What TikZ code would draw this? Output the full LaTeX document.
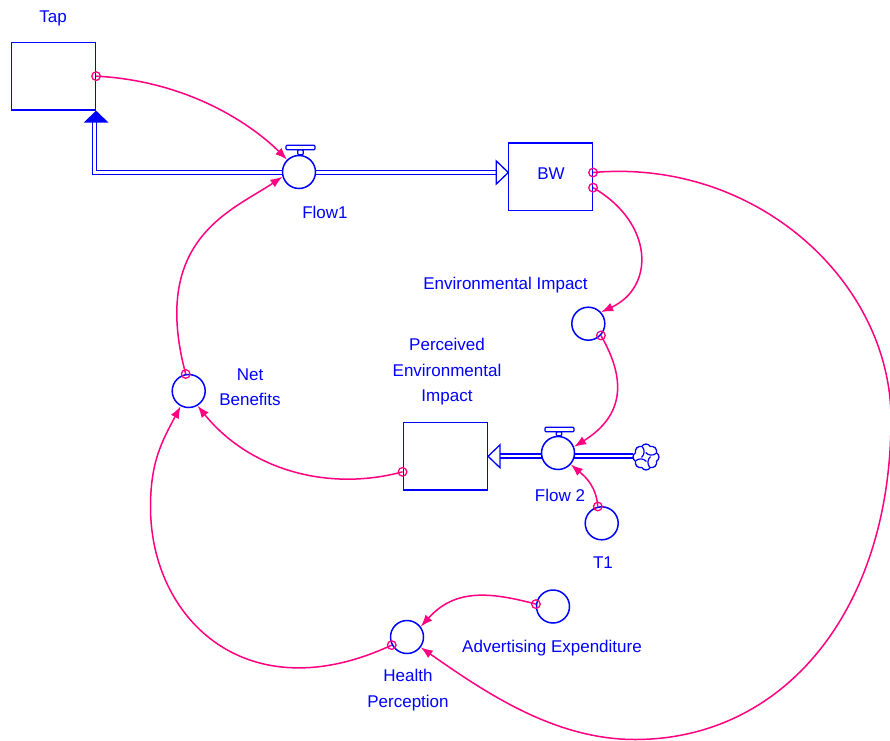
\documentclass[tikz,border=0pt]{standalone}
\usepackage{fontspec}
\setmainfont{Liberation Sans}
\usetikzlibrary{arrows.meta,shapes.symbols}
\definecolor{lnk}{RGB}{255,0,128}
\definecolor{sd}{RGB}{0,0,255}
\begin{document}
\begin{tikzpicture}[x=1pt,y=1pt,
 stock/.style={draw=sd,line width=1.5pt,rectangle,minimum width=84pt,minimum height=67.5pt,inner sep=0pt,fill=white},
 aux/.style={draw=sd,line width=1.5pt,circle,minimum size=33pt,inner sep=0pt},
 valve/.style={draw=sd,line width=1.5pt,circle,minimum size=33pt,inner sep=0pt,fill=white},
 link/.style={draw=lnk,line width=1.5pt,-{Latex[length=12pt,width=9pt]}},
 tail/.style={draw=lnk,line width=1.3pt},
 pipe/.style={draw=sd,line width=1.3pt,double=white,double distance=2.8pt},
 lbl/.style={text=sd,font=\fontsize{17}{25.5}\selectfont,align=center,inner sep=0pt},
 vpart/.style={draw=sd,line width=1.2pt,fill=white,rounded corners=1pt}
]
\useasboundingbox (0,0) rectangle (890,740);

% ---- nodes
\node[stock] (tap) at (53.35,663.85) {};
\node[stock] (bw) at (550.3,563) {};
\node[stock] (pei) at (445.3,283.7) {};
\node[aux] (env) at (588.3,416.3) {};
\node[aux] (t1) at (601.7,216.7) {};
\node[aux] (nb) at (188.7,349) {};
\node[aux] (hp) at (407,103) {};
\node[aux] (adv) at (553,133.5) {};

% ---- pipes
\coordinate (p1) at (94.7,618);
\coordinate (p2) at (94.7,567.5);
\coordinate (p3) at (496.3,567.5);
\coordinate (bwtip) at (508.3,567.5);
\coordinate (q1) at (633,284);
\coordinate (q2) at (499.3,284);
\draw[pipe] (p1) -- (p2) -- (p3);
\draw[pipe] (q1) -- (q2);
\fill[sd] (tap.south east) -- ++(-12.5,-12) -- ++(25,0) -- cycle;
\draw[sd,line width=1.3pt,fill=white,line join=miter] (bwtip) -- ++(-12,11.5) -- ++(0,-23) -- cycle;
\draw[sd,line width=1.3pt,fill=white,line join=miter] (pei.east) -- ++(12,11.5) -- ++(0,-23) -- cycle;

% ---- valves
\node[valve] (f1) at (299,568) {};
\draw[vpart] ([shift={(-1.3,0)}]f1.north) rectangle ([shift={(4.3,5)}]f1.north);
\draw[vpart] ([shift={(-13,5)}]f1.north) rectangle ([shift={(16,9.5)}]f1.north);
\node[valve] (f2) at (558,287) {};
\draw[vpart] ([shift={(-1.8,0)}]f2.north) rectangle ([shift={(3.8,4)}]f2.north);
\draw[vpart] ([shift={(-13,4)}]f2.north) rectangle ([shift={(16,8.5)}]f2.north);

% ---- cloud
\node[cloud,cloud puffs=8,cloud puff arc=120,aspect=1,draw=sd,line width=1.3pt,fill=white,
  minimum width=26pt,minimum height=26pt,inner sep=0pt] (cl) at (646,283) {};
\foreach \a in {20,110,200,290}
  \draw[sd,line width=1.2pt] ([shift={(\a:11pt)}]cl.center) to[bend left=45] ([shift={(\a+75:4.5pt)}]cl.center);

% ---- labels
\node[lbl] (ltap) at (53,722) {Tap};
\node[lbl] (lf1) at (325,528) {Flow1};
\node[lbl] (lbw) at (551,566) {BW};
\node[lbl] (lenv) at (505.5,455) {Environmental Impact};
\node[lbl] (lpei) at (447,368) {Perceived\\Environmental\\Impact};
\node[lbl] (lnb) at (250,353) {Net\\Benefits};
\node[lbl] (lf2) at (560,245) {Flow 2};
\node[lbl] (lt1) at (603,177) {T1};
\node[lbl] (lhp) at (408,50) {Health\\Perception};
\node[lbl] (ladv) at (552,92) {Advertising Expenditure};

% ---- links
\draw[link] (tap.east) to[out=-3,in=135,out distance=100pt,in distance=40pt] (f1.134);
\draw[link] (nb.100) to[out=105,in=214,out distance=140pt,in distance=60pt] (f1.196);
\draw[link] (bw.-14) to[out=-30,in=25,out distance=70pt,in distance=60pt] (env.42);
\coordinate (bigR) at (891,321);
\coordinate (bigB) at (635,0.5);
\draw[link] (bw.6) to[out=5,in=90,out distance=165pt,in distance=136pt] (bigR)
  to[out=270,in=0,out distance=190pt,in distance=150pt] (bigB)
  to[out=180,in=-35,out distance=80pt,in distance=80pt] (hp.-37);
\draw[link] (env.-43) to[out=-60,in=32,out distance=50pt,in distance=60pt] (f2.21);
\draw[link] (t1.103) to[out=95,in=-40,out distance=20pt,in distance=20pt] (f2.-42);
\draw[link] (pei.200) to[out=195,in=-51,out distance=80pt,in distance=80pt] (nb.-59);
\coordinate (hl) at (150.5,233);
\draw[link] (hp.208) to[out=205,in=270,out distance=160pt,in distance=112pt] (hl)
  to[out=90,in=242,out distance=45pt,in distance=40pt] (nb.-118);
\draw[link] (adv.172) to[out=165,in=48,out distance=50pt,in distance=50pt] (hp.37);

% ---- link tails
\foreach \p in {tap.east,nb.100,bw.-14,bw.6,env.-43,t1.103,pei.200,hp.208,adv.172}
  \draw[tail] (\p) circle[radius=4.3pt];
\end{tikzpicture}
\end{document}
